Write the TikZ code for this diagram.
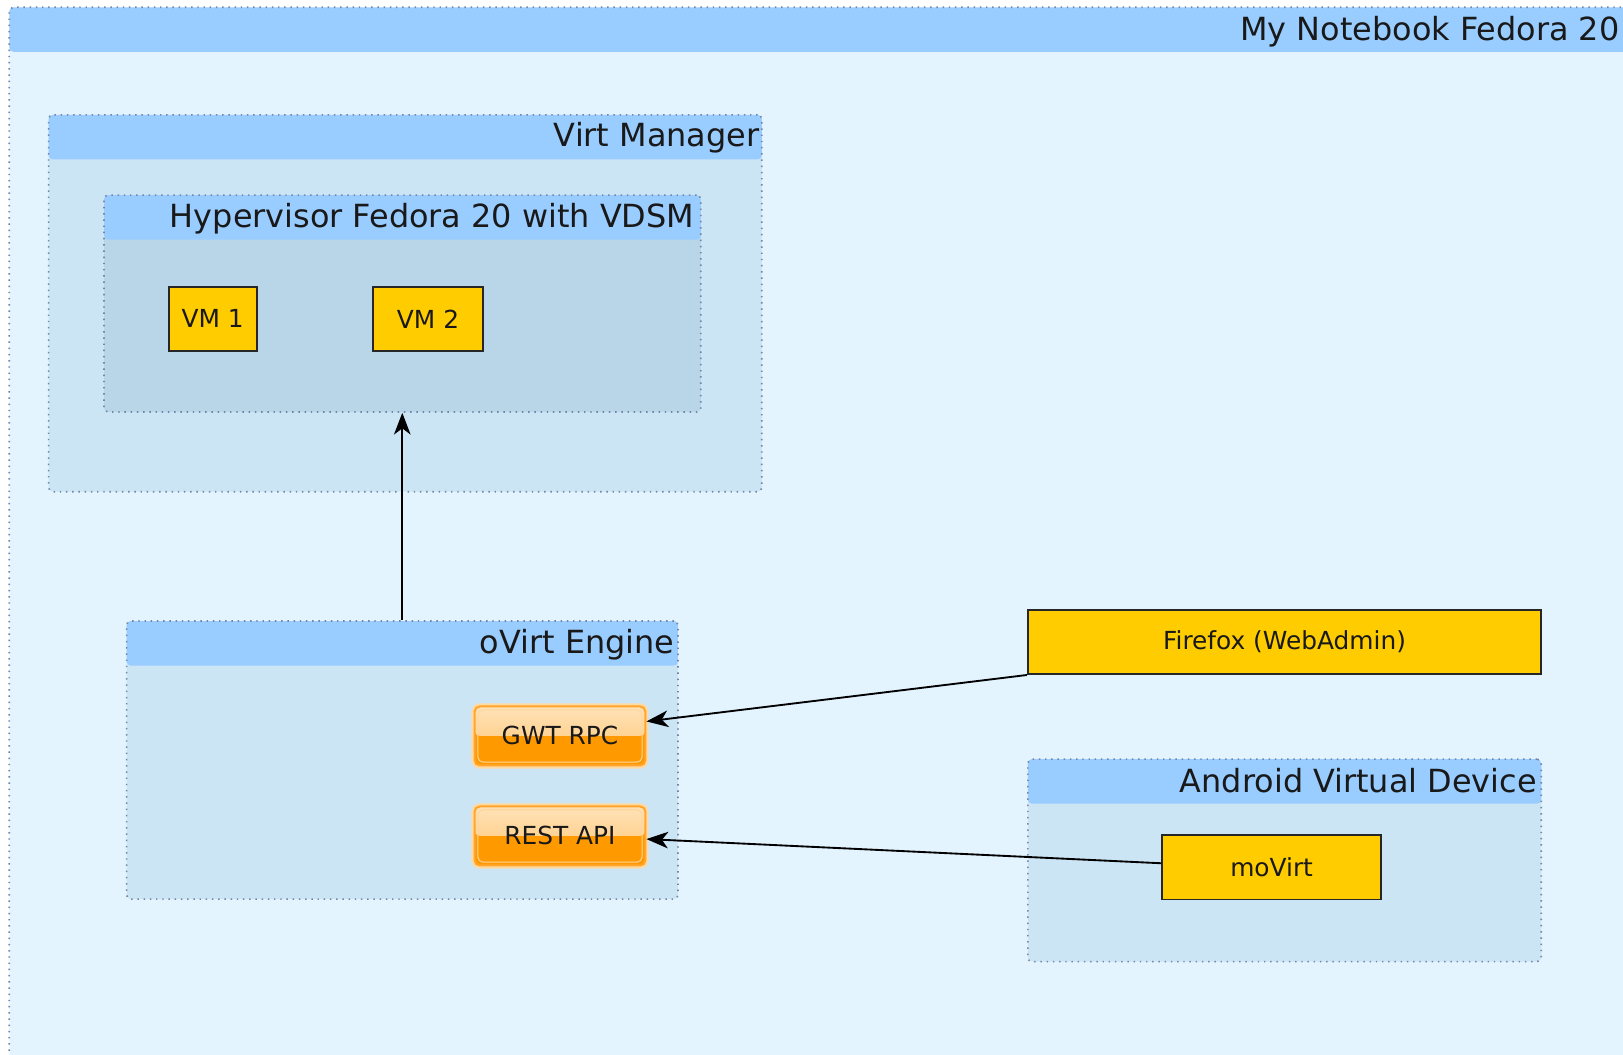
\documentclass[tikz,border=0pt]{standalone}
\usepackage{fontspec}
\setmainfont{DejaVu Sans}
\usetikzlibrary{arrows.meta,fit}

\definecolor{outerbg}{HTML}{E3F4FF}
\definecolor{headbg}{HTML}{99CCFF}
\definecolor{groupbg}{HTML}{CCE5F5}
\definecolor{hyperbg}{HTML}{B9D6E8}
\definecolor{framecol}{HTML}{7585A5}
\definecolor{vmyellow}{HTML}{FFCC00}
\definecolor{apiorange}{HTML}{FF9900}
\definecolor{apitop}{HTML}{FFE2B8}
\definecolor{apimid}{HTML}{FFC46E}
\definecolor{apiedge}{HTML}{FFA62E}
\definecolor{apiglow}{HTML}{FFD9A0}
\definecolor{apiline}{HTML}{FFD59A}

\tikzset{
  group/.style={draw=framecol, line width=0.8pt, dash pattern=on 0.7pt off 2.3pt,
    rounded corners=2pt, inner sep=0pt,
    path picture={\fill[headbg] (path picture bounding box.north west) rectangle
      ([yshift=-21.5pt]path picture bounding box.north east);}},
  grouplbl/.style={anchor=base east, inner sep=0pt, text=black!90,
    font=\fontsize{15.4}{18}\selectfont},
  vmbox/.style={draw=black!85, line width=0.9pt, fill=vmyellow, inner sep=0pt,
    minimum height=31pt, text=black!90, font=\fontsize{12}{14}\selectfont},
  apibox/.style={rounded corners=2.5pt, fill=apiorange, draw=apiedge, line width=1pt,
    minimum width=82.5pt, minimum height=28.5pt, inner sep=0pt, text=black!90,
    font=\fontsize{12}{14}\selectfont,
    preaction={draw=apiglow, line width=3pt},
    path picture={\fill[top color=apitop, bottom color=apimid]
      (path picture bounding box.north west) rectangle (path picture bounding box.east);
      \draw[apiline, line width=0.5pt]
      ([shift={(1.6pt,-1.6pt)}]path picture bounding box.north west) rectangle
      ([shift={(-1.6pt,1.6pt)}]path picture bounding box.south east);}},
  link/.style={draw=black, line width=0.9pt, -{Stealth[length=10.5pt,width=8pt,inset=3pt]}}
}

\begin{document}
\begin{tikzpicture}[x=0.5pt,y=-0.5pt]
\useasboundingbox (0,0) rectangle (1568,1019);

% containers
\node[group, fill=outerbg, fit={(9,7) (1600,1060)}] (notebook) {};
\node[grouplbl] (notebooklbl) at (1565,39) {My Notebook Fedora 20};

\node[group, fill=groupbg, fit={(47,111) (736,475)}] (virt) {};
\node[grouplbl] (virtlbl) at (734,142) {Virt Manager};

\node[group, fill=hyperbg, fit={(100.5,188.5) (677,398)}] (hyper) {};
\node[grouplbl] (hyperlbl) at (671,220) {Hypervisor Fedora 20 with VDSM};

\node[vmbox, minimum width=42.5pt] (vm1) at (205.5,308) {VM 1};
\node[vmbox, minimum width=53.5pt] (vm2) at (413.5,308) {VM 2};

\node[group, fill=groupbg, fit={(122.3,600) (655,868.6)}] (engine) {};
\node[grouplbl] (enginelbl) at (652,631) {oVirt Engine};

\node[apibox] (gwt) at (541,711) {GWT RPC};
\node[apibox] (rest) at (541,807.6) {REST API};

\node[vmbox, minimum width=248pt] (ff) at (1241,620.2) {Firefox (WebAdmin)};

\node[group, fill=groupbg, fit={(993,733.4) (1489,929)}] (avd) {};
\node[grouplbl] (avdlbl) at (1485,766) {Android Virtual Device};

\node[vmbox, minimum width=105.5pt] (movirt) at (1228.5,838) {moVirt};

% connectors
\path[link] (engine.north) -- (engine.north |- hyper.south);
\path[link] (ff.south west) -- ([yshift=7pt]gwt.east);
\path[link] ([yshift=2pt]movirt.west) -- ([yshift=-1.5pt]rest.east);
\end{tikzpicture}
\end{document}
